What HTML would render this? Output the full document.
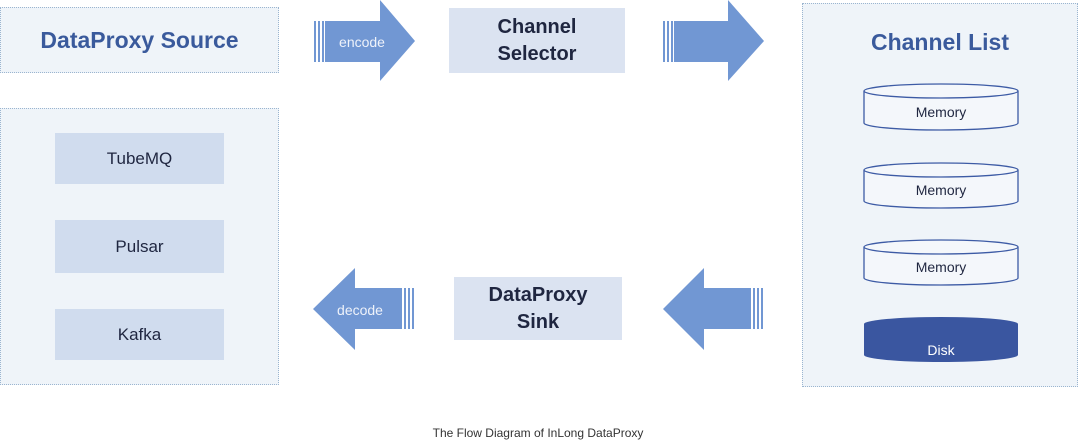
<!DOCTYPE html>
<html><head><meta charset="utf-8"><style>
body{margin:0;width:1080px;height:441px;background:#fff;position:relative;overflow:hidden;font-family:"Liberation Sans",sans-serif}
.b{position:absolute;box-sizing:border-box}
.c{position:absolute;box-sizing:border-box;display:flex;align-items:center;justify-content:center;text-align:center;color:#1f2640}
.grp{background:#eff4f9;border:1.5px dotted #9bb5d0}
.it{background:#d0dcee;font-size:17px}
.t{color:#3a5a9c;font-weight:bold;font-size:23px}
</style></head><body>
<div class="c grp t" style="left:0;top:7px;width:279px;height:66px">DataProxy Source</div>
<div class="b grp" style="left:0;top:108px;width:279px;height:277px"></div>
<div class="c it" style="left:55px;top:133px;width:169px;height:51px">TubeMQ</div>
<div class="c it" style="left:55px;top:220px;width:169px;height:53px">Pulsar</div>
<div class="c it" style="left:55px;top:309px;width:169px;height:51px">Kafka</div>
<div class="c" style="left:449px;top:8px;width:176px;height:65px;background:#dbe3f1;font-size:20px;font-weight:bold;line-height:27px">Channel<br>Selector</div>
<div class="c" style="left:454px;top:277px;width:168px;height:63px;background:#dbe3f1;font-size:20px;font-weight:bold;line-height:27px">DataProxy<br>Sink</div>
<div class="b grp" style="left:802px;top:3px;width:276px;height:384px"></div>
<div class="c t" style="left:802px;top:22px;width:276px;height:40px">Channel List</div>
<svg class="b" style="left:0;top:0" width="1080" height="441">
<g fill="#7197d3">
<rect x="314" y="21" width="2" height="41"/><rect x="318" y="21" width="2" height="41"/><rect x="322" y="21" width="2" height="41"/>
<polygon points="325,21 380,21 380,0 415,41 380,81 380,62 325,62"/>
<rect x="663" y="21" width="2" height="41"/><rect x="667" y="21" width="2" height="41"/><rect x="671" y="21" width="2" height="41"/>
<polygon points="674,21 728,21 728,0 764,41 728,81 728,62 674,62"/>
<rect x="412" y="288" width="2" height="41"/><rect x="408" y="288" width="2" height="41"/><rect x="404" y="288" width="2" height="41"/>
<polygon points="402,288 355,288 355,268 313,309 355,350 355,329 402,329"/>
<rect x="761" y="288" width="2" height="41"/><rect x="757" y="288" width="2" height="41"/><rect x="753" y="288" width="2" height="41"/>
<polygon points="751,288 704,288 704,268 663,309 704,350 704,329 751,329"/>
</g>
<text x="362" y="47" fill="#eef2fa" font-size="14" text-anchor="middle" font-family="Liberation Sans">encode</text>
<text x="360" y="315" fill="#eef2fa" font-size="14" text-anchor="middle" font-family="Liberation Sans">decode</text>
<g stroke="#3d5ba5" stroke-width="1.3" fill="#f4f7fb">
<path d="M864,91 L864,123 A77,7 0 0 0 1018,123 L1018,91"/><ellipse cx="941" cy="91" rx="77" ry="7"/>
<path d="M864,170 L864,201 A77,7 0 0 0 1018,201 L1018,170"/><ellipse cx="941" cy="170" rx="77" ry="7"/>
<path d="M864,247 L864,278 A77,7 0 0 0 1018,278 L1018,247"/><ellipse cx="941" cy="247" rx="77" ry="7"/>
</g>
<path d="M864,324 L864,355 A77,7 0 0 0 1018,355 L1018,324 A77,7 0 0 0 864,324Z" fill="#3a56a0"/>
<g font-family="Liberation Sans" font-size="14" text-anchor="middle" fill="#1f2640">
<text x="941" y="117">Memory</text><text x="941" y="195">Memory</text><text x="941" y="272">Memory</text>
<text x="941" y="355" fill="#fff">Disk</text>
</g>
<text x="538" y="437" font-family="Liberation Sans" font-size="12" text-anchor="middle" fill="#333">The Flow Diagram of InLong DataProxy</text>
</svg>
</body></html>
